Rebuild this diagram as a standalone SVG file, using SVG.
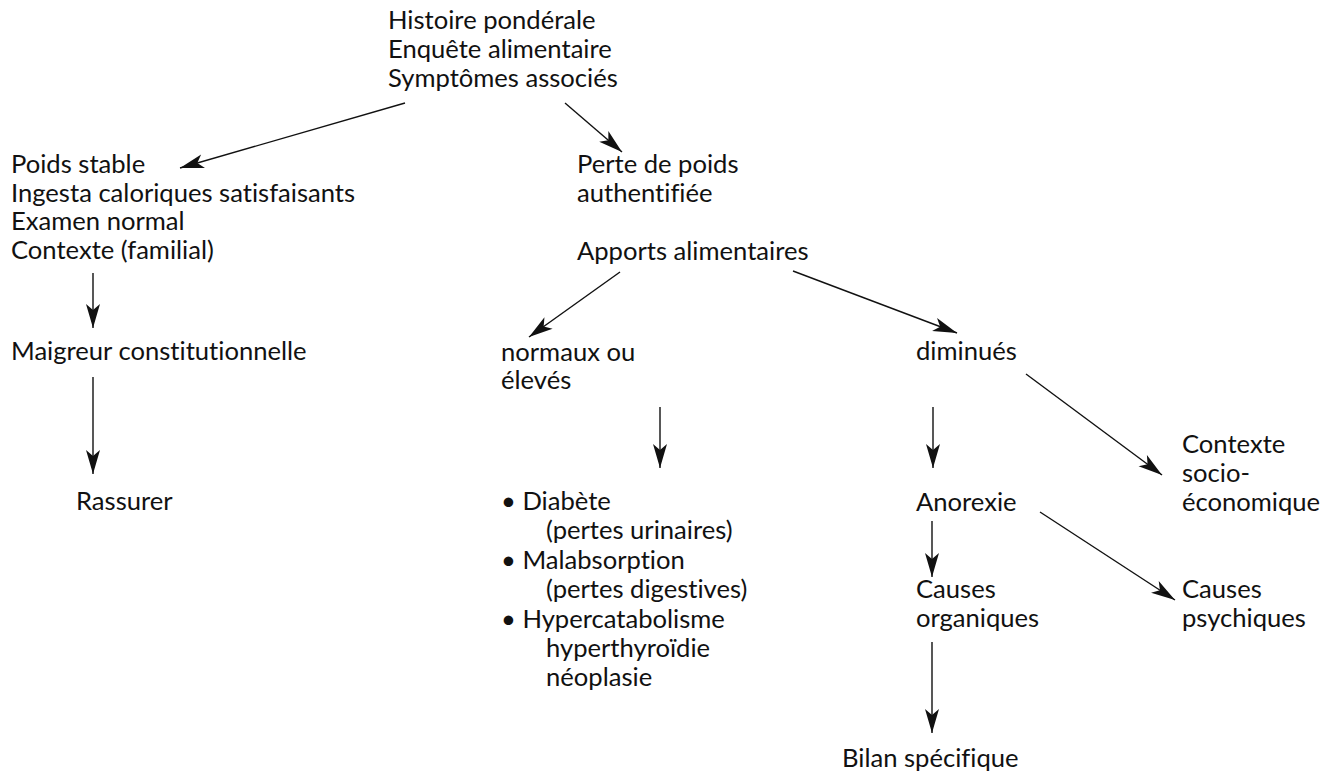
<svg xmlns="http://www.w3.org/2000/svg" width="1338" height="775" viewBox="0 0 1338 775">
<style>
text{font-family:Lato,"Liberation Sans",sans-serif;font-size:25.6px;fill:#111;font-variant-ligatures:none;font-feature-settings:"liga" 0,"clig" 0}
.c line{stroke:#111;stroke-width:1.4;fill:none;marker-end:url(#ah)}
</style>
<defs>
<marker id="ah" markerUnits="userSpaceOnUse" markerWidth="28" markerHeight="18" viewBox="-26 -9 28 18" refX="0" refY="0" orient="auto">
<path d="M0,0 L-24,-7 L-18,0 L-24,7 Z" fill="#111"/>
</marker>
</defs>
<rect width="1338" height="775" fill="#fff"/>
<g id="n-histoire">
<text x="388" y="29">Histoire pondérale</text>
<text x="388" y="58">Enquête alimentaire</text>
<text x="388" y="87">Symptômes associés</text>
</g>
<g id="n-poids-stable">
<text x="11" y="173">Poids stable</text>
<text x="11" y="201.5">Ingesta caloriques satisfaisants</text>
<text x="11" y="230">Examen normal</text>
<text x="11" y="258.5">Contexte (familial)</text>
</g>
<g id="n-perte">
<text x="577" y="173">Perte de poids</text>
<text x="577" y="202">authentifiée</text>
</g>
<g id="n-apports">
<text x="577" y="260">Apports alimentaires</text>
</g>
<g id="n-maigreur">
<text x="11" y="360">Maigreur constitutionnelle</text>
</g>
<g id="n-rassurer">
<text x="76" y="510">Rassurer</text>
</g>
<g id="n-normaux">
<text x="501" y="361">normaux ou</text>
<text x="501" y="389">élevés</text>
</g>
<g id="n-diminues">
<text x="916" y="360">diminués</text>
</g>
<g id="n-causes-list">
<text x="501" y="510">• Diabète</text>
<text x="546" y="539">(pertes urinaires)</text>
<text x="501" y="569">• Malabsorption</text>
<text x="546" y="598">(pertes digestives)</text>
<text x="501" y="628">• Hypercatabolisme</text>
<text x="546" y="657">hyperthyroïdie</text>
<text x="546" y="686">néoplasie</text>
</g>
<g id="n-contexte-socio">
<text x="1182" y="453">Contexte</text>
<text x="1182" y="482">socio-</text>
<text x="1182" y="511">économique</text>
</g>
<g id="n-anorexie">
<text x="916" y="511">Anorexie</text>
</g>
<g id="n-causes-org">
<text x="916" y="598">Causes</text>
<text x="916" y="627">organiques</text>
</g>
<g id="n-causes-psy">
<text x="1182" y="598">Causes</text>
<text x="1182" y="627">psychiques</text>
</g>
<g id="n-bilan">
<text x="842" y="767">Bilan spécifique</text>
</g>
<g id="connectors" class="c">
<line x1="405" y1="103" x2="180" y2="168"/>
<line x1="565" y1="103" x2="622" y2="152"/>
<line x1="93" y1="273" x2="93" y2="328"/>
<line x1="93" y1="377" x2="93" y2="474"/>
<line x1="620" y1="272" x2="529" y2="337"/>
<line x1="793" y1="271" x2="957" y2="333"/>
<line x1="660" y1="407" x2="660" y2="468"/>
<line x1="933" y1="407" x2="933" y2="468"/>
<line x1="1026" y1="374" x2="1162" y2="475"/>
<line x1="932" y1="521" x2="932" y2="577"/>
<line x1="1040" y1="512" x2="1175" y2="600"/>
<line x1="932" y1="642" x2="932" y2="733"/>
</g>
</svg>
